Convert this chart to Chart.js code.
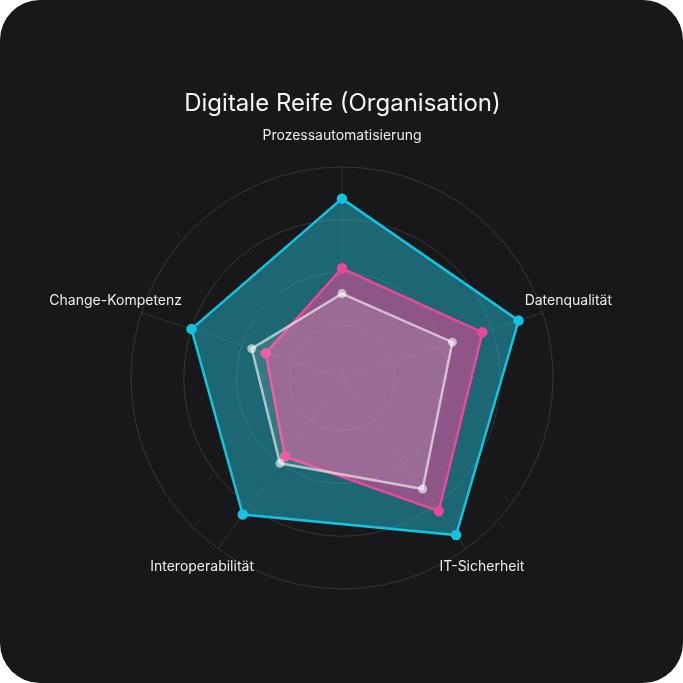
<!DOCTYPE html>
<html>
<head>
<meta charset="utf-8">
<script src="https://cdn.jsdelivr.net/npm/chart.js@4"></script>
<style>
  html, body { margin: 0; padding: 0; background: #ffffff; }
  #card {
    width: 683px; height: 683px;
    background: #18181a;
    border-radius: 40px;
    overflow: hidden;
    position: relative;
  }
  canvas { display: block; }
</style>
</head>
<body>
<div id="card"><canvas id="myChart" width="683" height="683"></canvas></div>
<script>
var categories = ["Prozessautomatisierung", "Datenqualität", "IT-Sicherheit", "Interoperabilität", "Change-Kompetenz"]
var zielWerte = [85, 88, 92, 80, 75]
var istWerte = [52, 70, 78, 46, 38]
var vorjahrWerte = [40, 55, 65, 50, 45]
var gridTicks = [0, 25, 50, 75, 100]

// labels centered on the axis direction, a bit outside the outer ring
var centerLabels = {
  id: "centerLabels",
  afterDraw: function(chart){
    var scale = chart.scales.r
    var ctx = chart.ctx
    ctx.save()
    ctx.font = "14px Inter, 'Noto Sans', sans-serif"
    ctx.fillStyle = "#ececee"
    ctx.textAlign = "center"
    ctx.textBaseline = "middle"
    for (var i = 0; i < categories.length; i++) {
      var pos = scale.getPointPosition(i, scale.drawingArea + 27)
      ctx.fillText(categories[i], pos.x, pos.y - 4)
    }
    ctx.restore()
  }
}

var ctx = document.getElementById("myChart").getContext("2d")
var chart = new Chart(ctx, {
  type: "radar",
  data: {
    labels: categories,
    datasets: [
      {
        label: "Vorjahr",
        data: vorjahrWerte,
        order: 1,
        borderColor: "rgba(255,255,255,0.6)",
        backgroundColor: "rgba(255,255,255,0.12)",
        pointBackgroundColor: "rgba(255,255,255,0.6)",
        pointBorderColor: "rgba(255,255,255,0.0)",
        borderWidth: 2.5,
        pointRadius: 4.5
      },
      {
        label: "Ist",
        data: istWerte,
        order: 2,
        borderColor: "#ec4899",
        backgroundColor: "rgba(236,72,153,0.55)",
        pointBackgroundColor: "#ec4899",
        pointBorderColor: "#ec4899",
        borderWidth: 2.5,
        pointRadius: 4
      },
      {
        label: "Ziel",
        data: zielWerte,
        order: 3,
        borderColor: "#14c3dd",
        backgroundColor: "rgba(34,200,225,0.45)",
        pointBackgroundColor: "#14c3dd",
        pointBorderColor: "#14c3dd",
        borderWidth: 2.5,
        pointRadius: 4
      }
    ]
  },
  options: {
    responsive: false,
    animation: false,
    layout: { padding: { top: 89, bottom: 94, left: 61, right: 59 } },
    elements: { line: { tension: 0 } },
    plugins: {
      legend: { display: false },
      tooltip: { enabled: false },
      title: {
        display: true,
        text: "Digitale Reife (Organisation)",
        color: "#f4f4f5",
        font: { family: "Inter, 'Noto Sans', sans-serif", size: 24, weight: "normal" },
        padding: { top: 0, bottom: 49.2 }
      }
    },
    scales: {
      r: {
        min: gridTicks[0],
        max: gridTicks[gridTicks.length - 1],
        ticks: { display: false, stepSize: 25 },
        grid: { circular: true, color: "rgba(255,255,255,0.13)", lineWidth: 1 },
        angleLines: { color: "rgba(255,255,255,0.11)", lineWidth: 1 },
        pointLabels: { display: false }
      }
    }
  },
  plugins: [centerLabels]
})
</script>
</body>
</html>
